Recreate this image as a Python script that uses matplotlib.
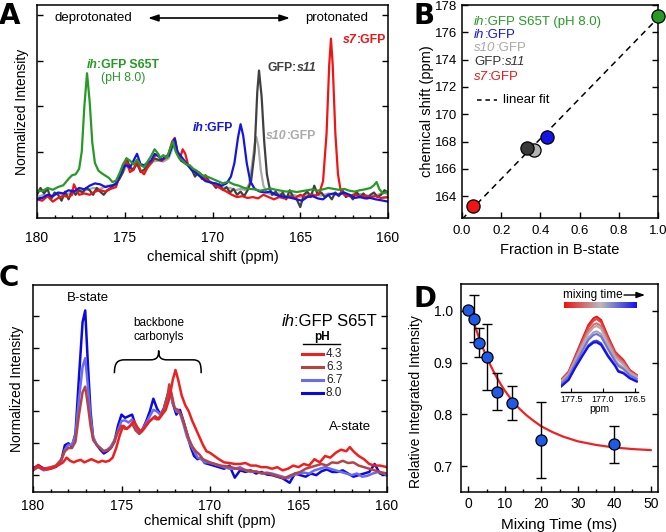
import numpy as np
import matplotlib
matplotlib.use('Agg')
import matplotlib.pyplot as plt
from matplotlib.colors import LinearSegmentedColormap
from matplotlib.patches import PathPatch
from matplotlib.path import Path
from matplotlib.lines import Line2D
from matplotlib.offsetbox import TextArea, HPacker, AnnotationBbox
from matplotlib.ticker import MultipleLocator

plt.rcParams['font.family'] = ['Liberation Sans', 'DejaVu Sans']

# ---------------- panel A: carbonyl spectra of the GFP variants ----------------
a_ppm_green = [180.0, 179.7, 179.4, 179.1, 178.8, 178.5, 178.2, 178.0, 177.8, 177.6, 177.45, 177.3, 177.15,
               177.0, 176.85, 176.7, 176.5, 176.3, 176.1, 175.9, 175.7, 175.5, 175.3, 175.1, 174.9, 174.7,
               174.5, 174.3, 174.1, 173.9, 173.7, 173.5, 173.3, 173.15, 173.0, 172.8, 172.6, 172.4, 172.25,
               172.1, 171.9, 171.7, 171.5, 171.3, 171.1, 170.9, 170.6, 170.3, 170.0, 169.7, 169.4, 169.1,
               168.8, 168.5, 168.2, 167.9, 167.6, 167.3, 167.0, 166.7, 166.4, 166.1, 165.8, 165.5, 165.2,
               164.9, 164.6, 164.3, 164.0, 163.7, 163.4, 163.1, 162.8, 162.5, 162.2, 161.9, 161.6, 161.3,
               161.0, 160.8, 160.65, 160.5, 160.3, 160.0]
a_int_green = [0.15, 0.13, 0.20, 0.16, 0.22, 0.26, 0.40, 0.48, 0.50, 0.62, 1.00, 2.00, 2.72,
               2.10, 1.20, 0.75, 0.58, 0.52, 0.47, 0.42, 0.33, 0.36, 0.52, 0.72, 0.85, 0.80,
               0.72, 0.82, 0.70, 0.66, 0.78, 0.90, 1.05, 0.98, 0.86, 0.92, 0.86, 1.08, 1.22,
               1.00, 0.85, 0.80, 0.72, 0.70, 0.62, 0.58, 0.48, 0.45, 0.40, 0.35, 0.30, 0.34,
               0.28, 0.25, 0.20, 0.18, 0.17, 0.14, 0.16, 0.19, 0.16, 0.14, 0.12, 0.13, 0.11,
               0.13, 0.15, 0.17, 0.14, 0.17, 0.20, 0.18, 0.16, 0.18, 0.14, 0.12, 0.15, 0.17,
               0.20, 0.26, 0.33, 0.18, 0.08, 0.12]

a_ppm_red = [180.0, 179.7, 179.4, 179.1, 178.8, 178.5, 178.2, 178.0, 177.9, 177.6, 177.3, 177.0, 176.7,
             176.4, 176.1, 175.8, 175.5, 175.3, 175.1, 174.9, 174.7, 174.5, 174.3, 174.1, 173.9, 173.7,
             173.5, 173.3, 173.1, 172.9, 172.7, 172.5, 172.3, 172.15, 172.0, 171.85, 171.7, 171.55, 171.4,
             171.2, 171.0, 170.7, 170.4, 170.1, 169.8, 169.5, 169.2, 168.9, 168.6, 168.3, 168.0, 167.7,
             167.4, 167.1, 166.8, 166.5, 166.2, 165.9, 165.6, 165.3, 165.0, 164.7, 164.4, 164.1, 163.9,
             163.7, 163.5, 163.35, 163.25, 163.15, 163.0, 162.85, 162.7, 162.5, 162.2, 161.9, 161.6, 161.3,
             161.0, 160.7, 160.4, 160.0]
a_int_red = [-0.05, -0.08, 0.02, -0.10, -0.02, 0.03, 0.00, 0.05, 0.28, 0.05, 0.08, 0.05, 0.12,
             0.15, 0.12, 0.18, 0.22, 0.45, 0.70, 0.78, 0.55, 0.60, 0.82, 0.58, 0.50, 0.65,
             0.75, 0.90, 0.95, 0.80, 0.85, 0.95, 1.22, 1.30, 1.00, 0.85, 1.05, 0.95, 0.72,
             0.65, 0.58, 0.52, 0.40, 0.32, 0.25, 0.18, 0.12, 0.05, 0.00, 0.02, -0.02, 0.00,
             -0.03, 0.05, 0.00, -0.05, 0.00, -0.03, 0.02, -0.02, 0.05, 0.00, 0.05, 0.03, 0.10,
             0.35, 1.40, 2.90, 3.48, 2.90, 1.40, 0.50, 0.15, 0.05, 0.02, 0.06, 0.00, 0.03,
             0.00, 0.02, -0.02, 0.00]

a_ppm_blue = [180.0, 179.7, 179.4, 179.1, 178.8, 178.5, 178.2, 177.9, 177.6, 177.3, 177.0, 176.7, 176.4,
              176.1, 175.8, 175.5, 175.3, 175.1, 174.9, 174.7, 174.5, 174.3, 174.1, 173.9, 173.7, 173.5,
              173.3, 173.1, 172.9, 172.7, 172.5, 172.3, 172.15, 172.0, 171.8, 171.6, 171.4, 171.2, 171.0,
              170.7, 170.4, 170.1, 169.8, 169.5, 169.2, 168.95, 168.75, 168.55, 168.4, 168.25, 168.05, 167.85,
              167.6, 167.3, 167.0, 166.7, 166.4, 166.1, 165.8, 165.5, 165.2, 164.9, 164.6, 164.3, 164.0,
              163.7, 163.4, 163.1, 162.8, 162.5, 162.2, 161.9, 161.6, 161.3, 161.0, 160.7, 160.4, 160.0]
a_int_blue = [-0.05, -0.02, 0.05, 0.02, 0.10, 0.08, 0.15, 0.12, 0.20, 0.17, 0.25, 0.30, 0.28,
              0.22, 0.25, 0.28, 0.45, 0.65, 0.70, 0.65, 0.80, 0.95, 0.72, 0.70, 0.75, 0.80,
              0.95, 0.90, 0.82, 0.88, 0.90, 1.15, 1.28, 1.00, 0.90, 0.80, 0.70, 0.60, 0.55,
              0.45, 0.35, 0.32, 0.30, 0.25, 0.30, 0.45, 0.75, 1.30, 1.60, 1.35, 0.75, 0.35,
              0.18, 0.12, 0.10, 0.12, 0.05, 0.02, 0.00, -0.02, -0.05, -0.08, 0.00, 0.02, -0.03,
              -0.05, 0.05, 0.08, 0.05, 0.10, 0.05, -0.02, 0.00, -0.03, -0.02, -0.05, -0.07, -0.10]

a_ppm_dark = [180.0, 179.8, 179.6, 179.4, 179.2, 179.0, 178.8, 178.6, 178.4, 178.2, 178.0, 177.8, 177.6,
              177.4, 177.2, 177.0, 176.8, 176.6, 176.4, 176.2, 176.0, 175.8, 175.5, 175.3, 175.1, 174.9,
              174.7, 174.5, 174.3, 174.1, 173.9, 173.7, 173.5, 173.3, 173.1, 172.9, 172.7, 172.5, 172.3,
              172.15, 172.0, 171.8, 171.6, 171.4, 171.2, 171.0, 170.8, 170.6, 170.4, 170.2, 170.0, 169.8,
              169.6, 169.4, 169.2, 169.0, 168.8, 168.6, 168.4, 168.2, 168.0, 167.8, 167.6, 167.45, 167.35,
              167.2, 167.05, 166.9, 166.75, 166.6, 166.4, 166.2, 166.0, 165.8, 165.6, 165.4, 165.2, 165.0,
              164.8, 164.6, 164.4, 164.2, 164.0, 163.8, 163.6, 163.4, 163.2, 163.0, 162.8, 162.6, 162.4,
              162.2, 162.0, 161.8, 161.6, 161.4, 161.2, 161.0, 160.8, 160.6, 160.4, 160.2, 160.0]
a_int_dark = [0.05, 0.20, 0.08, 0.18, -0.05, 0.10, 0.05, -0.08, 0.12, -0.05, 0.15, 0.05, 0.15,
              0.10, 0.20, 0.15, 0.05, 0.20, 0.12, 0.05, 0.15, 0.20, 0.30, 0.40, 0.55, 0.85,
              0.65, 0.60, 0.75, 0.55, 0.60, 0.70, 0.75, 0.85, 0.82, 0.80, 0.88, 0.92, 1.12,
              1.25, 0.95, 0.80, 0.75, 0.70, 0.62, 0.45, 0.55, 0.40, 0.48, 0.35, 0.30, 0.20,
              0.28, 0.15, 0.22, 0.10, 0.18, 0.05, 0.12, 0.02, 0.15, 0.35, 1.00, 2.30, 2.78,
              2.20, 1.20, 0.50, 0.20, 0.05, 0.12, 0.00, 0.10, -0.05, 0.15, 0.00, -0.05, -0.22,
              0.05, 0.12, 0.00, 0.25, 0.05, 0.10, 0.00, 0.05, -0.05, 0.10, 0.02, 0.15, 0.00,
              0.05, -0.05, 0.12, 0.00, 0.08, -0.03, 0.05, 0.10, 0.00, 0.05, 0.15, 0.10]

a_ppm_light = [180.0, 179.6, 179.2, 178.8, 178.4, 178.0, 177.6, 177.2, 176.8, 176.4, 176.0, 175.7, 175.4,
               175.1, 174.9, 174.6, 174.3, 174.0, 173.7, 173.4, 173.1, 172.8, 172.5, 172.3, 172.15, 172.0,
               171.7, 171.4, 171.1, 170.8, 170.5, 170.2, 169.9, 169.6, 169.3, 169.0, 168.7, 168.4, 168.1,
               167.9, 167.75, 167.6, 167.5, 167.38, 167.25, 167.1, 166.9, 166.6, 166.2, 165.8, 165.4, 165.0,
               164.6, 164.2, 163.8, 163.4, 163.0, 162.6, 162.2, 161.8, 161.4, 161.0, 160.6, 160.2, 160.0]
a_int_light = [0.00, 0.05, 0.00, 0.08, 0.05, 0.10, 0.12, 0.15, 0.20, 0.18, 0.25, 0.25, 0.35,
               0.55, 0.68, 0.60, 0.70, 0.55, 0.65, 0.78, 0.80, 0.78, 0.85, 1.05, 1.15, 0.95,
               0.82, 0.70, 0.55, 0.48, 0.40, 0.35, 0.28, 0.25, 0.20, 0.20, 0.15, 0.18, 0.15,
               0.30, 0.70, 1.15, 1.32, 1.10, 0.60, 0.25, 0.10, 0.05, 0.08, 0.02, 0.05, 0.00,
               0.08, 0.05, 0.03, 0.08, 0.05, 0.10, 0.02, 0.08, 0.05, 0.02, 0.05, 0.10, 0.05]

# ---------------- panel B: shift vs B-state fraction ----------------
b_names = ['ih:GFP S65T (pH 8.0)', 'ih:GFP', 's10:GFP', 'GFP:s11', 's7:GFP']
b_fraction = [1.0, 0.435, 0.365, 0.33, 0.055]
b_shift = [177.2, 168.35, 167.35, 167.55, 163.3]

# ---------------- panel C: ih:GFP S65T at several pH ----------------
c_ph = ['4.3', '6.3', '6.7', '8.0']
c_ppm_80 = [180.0, 179.7, 179.4, 179.0, 178.7, 178.4, 178.2, 178.0, 177.8, 177.6, 177.4, 177.2, 177.05,
            176.9, 176.75, 176.6, 176.4, 176.2, 176.0, 175.8, 175.6, 175.4, 175.2, 175.0, 174.8, 174.6,
            174.4, 174.2, 174.0, 173.8, 173.6, 173.4, 173.2, 173.0, 172.8, 172.6, 172.4, 172.25, 172.1,
            171.9, 171.7, 171.5, 171.3, 171.1, 170.9, 170.7, 170.5, 170.3, 170.1, 169.8, 169.5, 169.2,
            168.9, 168.6, 168.3, 168.0, 167.7, 167.4, 167.1, 166.8, 166.5, 166.2, 165.9, 165.5, 165.2,
            164.9, 164.6, 164.3, 164.0, 163.7, 163.4, 163.1, 162.8, 162.5, 162.2, 161.9, 161.6, 161.3,
            161.0, 160.7, 160.4, 160.0]
c_int_80 = [0.21, 0.31, 0.21, 0.21, 0.26, 0.47, 0.94, 1.00, 0.89, 1.31, 3.10, 4.80, 5.17,
            3.50, 2.00, 1.15, 0.95, 0.80, 0.68, 0.75, 0.85, 1.05, 1.55, 1.90, 1.80, 1.85,
            1.90, 1.55, 1.30, 1.45, 1.70, 2.00, 2.40, 2.10, 1.90, 2.10, 2.50, 2.72, 2.25,
            1.90, 2.05, 1.70, 1.30, 0.90, 0.60, 0.50, 0.55, 0.38, 0.35, 0.30, 0.25, 0.20,
            0.30, -0.08, 0.15, 0.10, 0.15, 0.05, 0.10, 0.02, 0.00, -0.05, -0.10, -0.24, 0.05,
            0.00, -0.05, 0.05, 0.00, 0.12, 0.18, 0.10, 0.10, 0.15, 0.05, -0.05, 0.00, 0.05,
            0.10, 0.35, 0.05, 0.00]

c_ppm_67 = [180.0, 179.7, 179.4, 179.0, 178.7, 178.4, 178.2, 178.0, 177.8, 177.6, 177.4, 177.2, 177.05,
            176.9, 176.75, 176.6, 176.4, 176.2, 176.0, 175.8, 175.6, 175.4, 175.2, 175.0, 174.8, 174.6,
            174.4, 174.2, 174.0, 173.8, 173.6, 173.4, 173.2, 173.0, 172.8, 172.6, 172.4, 172.25, 172.1,
            171.9, 171.7, 171.5, 171.3, 171.1, 170.9, 170.7, 170.5, 170.3, 170.1, 169.8, 169.5, 169.2,
            168.9, 168.6, 168.3, 168.0, 167.7, 167.4, 167.1, 166.8, 166.5, 166.2, 165.9, 165.6, 165.3,
            165.0, 164.7, 164.4, 164.1, 163.8, 163.5, 163.2, 162.9, 162.6, 162.3, 162.0, 161.7, 161.4,
            161.1, 160.8, 160.5, 160.2, 160.0]
c_int_67 = [0.15, 0.25, 0.15, 0.20, 0.30, 0.45, 0.80, 0.95, 0.95, 1.25, 2.40, 3.40, 3.67,
            2.80, 1.80, 1.20, 0.95, 0.85, 0.75, 0.80, 0.90, 1.10, 1.40, 1.70, 1.72, 1.65,
            1.75, 1.50, 1.35, 1.45, 1.65, 1.85, 2.05, 2.00, 1.90, 2.10, 2.45, 2.65, 2.25,
            2.00, 1.95, 1.60, 1.20, 0.95, 0.75, 0.55, 0.50, 0.40, 0.40, 0.35, 0.30, 0.25,
            0.20, 0.20, 0.25, 0.15, 0.10, 0.12, 0.05, 0.08, 0.05, 0.00, -0.05, -0.10, 0.00,
            0.05, 0.08, 0.05, 0.15, 0.20, 0.25, 0.20, 0.15, 0.10, 0.05, 0.00, 0.05, -0.05,
            -0.02, 0.05, 0.10, 0.05, 0.00]

c_ppm_63 = [180.0, 179.7, 179.4, 179.0, 178.7, 178.4, 178.2, 178.0, 177.8, 177.6, 177.4, 177.2, 177.05,
            176.9, 176.75, 176.6, 176.4, 176.2, 176.0, 175.8, 175.6, 175.4, 175.2, 175.0, 174.8, 174.6,
            174.4, 174.2, 174.0, 173.8, 173.6, 173.4, 173.2, 173.0, 172.8, 172.6, 172.4, 172.3, 172.15,
            172.0, 171.8, 171.6, 171.4, 171.2, 171.0, 170.8, 170.6, 170.4, 170.2, 170.0, 169.7, 169.4,
            169.1, 168.8, 168.5, 168.2, 167.9, 167.6, 167.3, 167.0, 166.7, 166.4, 166.1, 165.8, 165.5,
            165.2, 164.9, 164.6, 164.3, 164.0, 163.7, 163.4, 163.1, 162.8, 162.5, 162.2, 161.9, 161.6,
            161.3, 161.0, 160.7, 160.4, 160.0]
c_int_63 = [0.20, 0.25, 0.20, 0.25, 0.30, 0.50, 0.75, 0.85, 0.85, 1.05, 1.90, 2.60, 2.78,
            2.20, 1.55, 1.10, 0.95, 0.85, 0.75, 0.78, 0.85, 1.05, 1.35, 1.55, 1.45, 1.50,
            1.62, 1.40, 1.30, 1.40, 1.55, 1.70, 1.80, 1.75, 1.85, 2.10, 2.50, 2.85, 2.50,
            2.10, 2.05, 1.85, 1.50, 1.15, 0.90, 0.75, 0.65, 0.50, 0.45, 0.40, 0.35, 0.30,
            0.28, 0.25, 0.20, 0.18, 0.15, 0.12, 0.10, 0.05, 0.05, 0.00, -0.05, -0.10, -0.02,
            0.05, 0.10, 0.20, 0.25, 0.30, 0.35, 0.30, 0.40, 0.38, 0.45, 0.38, 0.40, 0.30,
            0.25, 0.20, 0.15, 0.10, 0.05]

c_ppm_43 = [180.0, 179.7, 179.5, 179.2, 178.9, 178.6, 178.3, 178.1, 177.9, 177.7, 177.5, 177.3, 177.1,
            176.9, 176.7, 176.5, 176.3, 176.1, 175.9, 175.7, 175.5, 175.3, 175.1, 174.9, 174.7, 174.5,
            174.3, 174.1, 173.9, 173.7, 173.5, 173.3, 173.1, 172.9, 172.7, 172.5, 172.3, 172.1, 171.95,
            171.8, 171.6, 171.4, 171.2, 171.0, 170.8, 170.6, 170.4, 170.2, 170.0, 169.8, 169.5, 169.2,
            168.9, 168.6, 168.3, 168.0, 167.7, 167.4, 167.1, 166.8, 166.5, 166.2, 165.9, 165.6, 165.3,
            165.0, 164.7, 164.4, 164.1, 163.8, 163.5, 163.2, 162.9, 162.6, 162.3, 162.1, 161.9, 161.6,
            161.3, 161.0, 160.7, 160.4, 160.0]
c_int_43 = [0.15, 0.32, 0.20, 0.18, 0.22, 0.30, 0.40, 0.55, 0.45, 0.40, 0.45, 0.48, 0.40,
            0.45, 0.50, 0.45, 0.40, 0.45, 0.42, 0.45, 0.55, 0.85, 1.25, 1.55, 1.45, 1.55,
            1.70, 1.50, 1.35, 1.50, 1.65, 1.75, 1.85, 1.75, 1.90, 2.05, 2.40, 3.00, 3.30,
            3.00, 2.50, 2.20, 2.00, 1.70, 1.45, 1.20, 0.95, 0.75, 0.70, 0.62, 0.50, 0.40,
            0.38, 0.35, 0.35, 0.38, 0.30, 0.30, 0.25, 0.25, 0.20, 0.25, 0.15, 0.20, 0.30,
            0.25, 0.35, 0.30, 0.50, 0.40, 0.60, 0.55, 0.70, 0.80, 0.75, 0.88, 0.75, 0.60,
            0.50, 0.35, 0.30, 0.30, 0.25]

# ---------------- panel D: magnetisation transfer ----------------
d_time = [0, 1.5, 3, 5, 8, 12, 20, 40]
d_rel = [1.001, 0.985, 0.938, 0.911, 0.844, 0.822, 0.750, 0.742]
d_err = [0.0, 0.045, 0.028, 0.063, 0.036, 0.033, 0.073, 0.035]
d_fit_t = [0.5, 1, 2, 3, 4, 5, 6, 7, 8, 9, 10, 12, 14, 16, 18, 20, 23, 26, 30, 35, 40, 45, 50]
d_fit_y = [1.000, 0.988, 0.967, 0.947, 0.928, 0.912, 0.896, 0.882, 0.869, 0.857, 0.846, 0.827,
           0.811, 0.798, 0.787, 0.777, 0.766, 0.757, 0.748, 0.741, 0.736, 0.733, 0.731]

# inset: B-state peak vs mixing time (early -> late)
in_ppm = [177.66, 177.54, 177.44, 177.33, 177.23, 177.15, 177.10, 177.03, 176.92, 176.81, 176.76, 176.68, 176.58, 176.47]
in_spec_0 = [0.30, 0.55, 1.00, 1.50, 1.95, 2.15, 2.20, 2.10, 1.60, 1.15, 1.05, 0.90, 0.60, 0.45]
in_spec_1 = [0.30, 0.53, 0.97, 1.45, 1.88, 2.08, 2.13, 2.03, 1.55, 1.12, 1.02, 0.86, 0.58, 0.44]
in_spec_2 = [0.27, 0.50, 0.92, 1.38, 1.78, 1.96, 2.00, 1.92, 1.47, 1.06, 0.96, 0.82, 0.55, 0.42]
in_spec_3 = [0.25, 0.48, 0.88, 1.32, 1.70, 1.88, 1.92, 1.84, 1.40, 1.00, 0.90, 0.76, 0.52, 0.40]
in_spec_4 = [0.20, 0.42, 0.80, 1.20, 1.57, 1.73, 1.76, 1.68, 1.28, 0.90, 0.78, 0.67, 0.46, 0.35]
in_spec_5 = [0.18, 0.40, 0.76, 1.15, 1.50, 1.65, 1.68, 1.60, 1.22, 0.86, 0.72, 0.63, 0.44, 0.33]
in_spec_6 = [0.12, 0.32, 0.68, 1.03, 1.34, 1.46, 1.48, 1.40, 1.04, 0.75, 0.58, 0.52, 0.37, 0.27]
in_spec_7 = [0.10, 0.30, 0.65, 1.00, 1.30, 1.42, 1.43, 1.35, 1.00, 0.72, 0.55, 0.50, 0.35, 0.25]

W, H = 666, 532


def fx(x):
    return x / W


def fy(y):
    return 1 - y / H


def box(l, t, r, b):
    return [l / W, 1 - b / H, (r - l) / W, (b - t) / H]


def style(ax, size=10):
    ax.tick_params(direction='in', which='both', right=True, top=False, labelsize=size, width=1.0)
    ax.tick_params(which='major', length=4.5)
    ax.tick_params(which='minor', length=2.5)
    for s in ax.spines.values():
        s.set_linewidth(1.1)


def rich(x, y, parts, color, size, ha='left', weight='normal'):
    # text made of pieces with different font styles, placed at pixel (x, y)
    boxes = [TextArea(t, textprops=dict(color=color, fontsize=size, fontweight=weight, fontstyle=st))
             for t, st in parts]
    pack = HPacker(children=boxes, align='baseline', pad=0, sep=0)
    ab = AnnotationBbox(pack, (fx(x), fy(y)), xycoords='figure fraction', frameon=False,
                        box_alignment=({'left': 0, 'center': 0.5, 'right': 1}[ha], 0.5), pad=0)
    ab.set_zorder(10)
    fig.add_artist(ab)


fig = plt.figure(figsize=(6.66, 5.32), dpi=100)

green, blue, red = '#259a25', '#1414e6', '#f01414'
dark, light = '#404040', '#aaaaaa'

# ---------- A ----------
ax = fig.add_axes(box(37, 5, 388, 218))
ax.plot(a_ppm_light, a_int_light, color=light, lw=1.6)
ax.plot(a_ppm_dark, a_int_dark, color=dark, lw=1.6)
ax.plot(a_ppm_red, a_int_red, color=red, lw=1.6)
ax.plot(a_ppm_blue, a_int_blue, color=blue, lw=1.6)
ax.plot(a_ppm_green, a_int_green, color=green, lw=1.6)
ax.set_xlim(180, 160)
ax.set_ylim(-0.46, 4.22)
ax.set_yticks([0, 1, 2, 3, 4])
ax.set_yticklabels([])
ax.xaxis.set_major_locator(MultipleLocator(5))
ax.xaxis.set_minor_locator(MultipleLocator(1))
style(ax)
ax.tick_params(axis='x', pad=9)
ax.set_xlabel('chemical shift (ppm)', fontsize=10.5, labelpad=4)
ax.set_ylabel('Normalized Intensity', fontsize=10, labelpad=2)

fig.text(fx(93), fy(18), 'deprotonated', fontsize=9.5, ha='center', va='center')
fig.text(fx(337), fy(18), 'protonated', fontsize=9.5, ha='center', va='center')
ax.annotate('', xy=(fx(290), fy(18)), xytext=(fx(148), fy(18)), xycoords='figure fraction',
            arrowprops=dict(arrowstyle='<|-|>,head_length=0.6,head_width=0.2', color='k', lw=1.2,
                            shrinkA=0, shrinkB=0))
rich(123, 65, [('ih', 'italic'), (':GFP S65T', 'normal')], green, 8.8, ha='center', weight='bold')
fig.text(fx(123), fy(78), '(pH 8.0)', fontsize=8.8, color=green, ha='center', va='center')
rich(268, 68, [('GFP:', 'normal'), ('s11', 'italic')], dark, 8.8, weight='bold')
rich(343, 40, [('s7', 'italic'), (':GFP', 'normal')], red, 8.8, weight='bold')
rich(233, 128, [('ih', 'italic'), (':GFP', 'normal')], blue, 8.8, ha='right', weight='bold')
rich(266, 136, [('s10', 'italic'), (':GFP', 'normal')], light, 8.8, weight='bold')

# ---------- B ----------
ax = fig.add_axes(box(462, 5, 658, 218))
slope, icpt = np.polyfit(b_fraction, b_shift, 1)
fit_x = np.array([0.0, 1.0])
ax.plot(fit_x, icpt + slope * fit_x, '--', color='k', lw=1.1, dashes=(4, 3))
b_cols = [green, blue, '#b4b4b4', '#3a3a3a', red]
for f, s, c in zip(b_fraction, b_shift, b_cols):
    ax.plot(f, s, 'o', ms=9.5, mfc=c, mec='k', mew=0.9, clip_on=False, zorder=5)
ax.set_xlim(0, 1.0)
ax.set_ylim(162.4, 178)
ax.set_yticks(np.arange(164, 179, 2))
ax.xaxis.set_major_locator(MultipleLocator(0.2))
ax.xaxis.set_major_formatter(matplotlib.ticker.FormatStrFormatter('%.1f'))
style(ax, 9.5)
ax.tick_params(axis='x', pad=5)
ax.set_xlabel('Fraction in B-state', fontsize=10.5, labelpad=4)
ax.set_ylabel('chemical shift (ppm)', fontsize=10.5, labelpad=1)
rich(474, 22, [('ih', 'italic'), (':GFP S65T (pH 8.0)', 'normal')], green, 9.5)
rich(474, 35, [('ih', 'italic'), (':GFP', 'normal')], blue, 9.5)
rich(474, 48, [('s10', 'italic'), (':GFP', 'normal')], '#a8a8a8', 9.5)
rich(474, 62, [('GFP:', 'normal'), ('s11', 'italic')], '#333333', 9.5)
rich(474, 77, [('s7', 'italic'), (':GFP', 'normal')], red, 9.5)
fig.add_artist(Line2D([fx(477), fx(497)], [fy(100), fy(100)], color='k', lw=1.1, ls='--', dashes=(3, 2.5)))
fig.text(fx(503), fy(100), 'linear fit', fontsize=9.5, va='center')

# ---------- C ----------
ax = fig.add_axes(box(33, 285, 387, 492))
c_cols = ['#f01e1e', '#b44444', '#6b6bf0', '#0a0ae0']
ax.plot(c_ppm_80, c_int_80, color=c_cols[3], lw=1.8)
ax.plot(c_ppm_67, c_int_67, color=c_cols[2], lw=1.8)
ax.plot(c_ppm_63, c_int_63, color=c_cols[1], lw=1.8)
ax.plot(c_ppm_43, c_int_43, color=c_cols[0], lw=1.8)
ax.set_xlim(180, 160)
ax.set_ylim(-0.53, 5.97)
ax.set_yticks([0, 1, 2, 3, 4, 5])
ax.set_yticklabels([])
ax.xaxis.set_major_locator(MultipleLocator(5))
ax.xaxis.set_minor_locator(MultipleLocator(1))
style(ax)
ax.tick_params(axis='x', pad=5)
ax.set_xlabel('chemical shift (ppm)', fontsize=10.5, labelpad=1)
ax.set_ylabel('Normalized Intensity', fontsize=10, labelpad=3)

# curly brace over the backbone carbonyl region
yb, ym, yt = 3.2, 3.62, 3.91
verts = [(175.4, yb), (175.4, ym - 0.07), (175.2, ym), (174.8, ym), (173.4, ym),
         (173.0, ym), (172.9, ym + 0.08), (172.9, yt), (172.9, ym + 0.08), (172.8, ym), (172.4, ym),
         (171.0, ym), (170.6, ym), (170.5, ym - 0.07), (170.5, yb)]
codes = [Path.MOVETO, Path.CURVE4, Path.CURVE4, Path.CURVE4, Path.LINETO,
         Path.CURVE4, Path.CURVE4, Path.CURVE4, Path.CURVE4, Path.CURVE4, Path.CURVE4,
         Path.LINETO, Path.CURVE4, Path.CURVE4, Path.CURVE4]
ax.add_patch(PathPatch(Path(verts, codes), fill=False, lw=1.1, color='k'))

fig.text(fx(88), fy(298), 'B-state', fontsize=9.5, ha='center', va='center')
fig.text(fx(350), fy(427), 'A-state', fontsize=9.5, ha='center', va='center')
fig.text(fx(159), fy(330), 'backbone\ncarbonyls', fontsize=8.5, ha='center', va='center', linespacing=1.2)
rich(377, 322, [('ih', 'italic'), (':GFP S65T', 'normal')], 'k', 12, ha='right')
fig.text(fx(322), fy(337), 'pH', fontsize=8.5, fontweight='bold', ha='center', va='center')
fig.add_artist(Line2D([fx(303), fx(340)], [fy(344), fy(344)], color='k', lw=1.0))
for i, (lab, c) in enumerate(zip(c_ph, c_cols)):
    yy = 354 + i * 13
    fig.add_artist(Line2D([fx(302), fx(323)], [fy(yy), fy(yy)], color=c, lw=2.2))
    fig.text(fx(326), fy(yy), lab, fontsize=8.5, va='center', color='#222222')

# ---------- D ----------
ax = fig.add_axes(box(461, 284, 658, 492))
ax.plot(d_fit_t, d_fit_y, color='#ee2222', lw=1.6, zorder=2)
ax.errorbar(d_time, d_rel, yerr=d_err, fmt='none', ecolor='k', elinewidth=1.0, capsize=3.5,
            capthick=1.0, zorder=3)
ax.plot(d_time, d_rel, 'o', ms=8, mfc='#1e5ae6', mec='k', mew=0.9, zorder=4)
ax.set_xlim(-2, 52)
ax.set_ylim(0.65, 1.052)
ax.set_yticks([0.7, 0.8, 0.9, 1.0])
ax.xaxis.set_major_locator(MultipleLocator(10))
ax.xaxis.set_minor_locator(MultipleLocator(5))
style(ax)
ax.tick_params(axis='y', pad=6)
ax.set_xlabel('Mixing Time (ms)', fontsize=11, labelpad=5)
ax.set_ylabel('Relative Integrated Intensity', fontsize=10)
ax.yaxis.set_label_coords(-0.193, 0.433)

cmap = LinearSegmentedColormap.from_list('mix', ['#ee1111', '#bbbbbb', '#1111ee'])
ins = fig.add_axes(box(561, 310, 638, 392))
ins.patch.set_alpha(0)
in_specs = [in_spec_0, in_spec_1, in_spec_2, in_spec_3, in_spec_4, in_spec_5, in_spec_6, in_spec_7]
for i, sp in enumerate(in_specs):
    ins.plot(in_ppm, sp, color=cmap(i / (len(in_specs) - 1)), lw=1.5)
ins.set_xlim(177.66, 176.45)
ins.set_ylim(-0.06, 2.4)
ins.set_xticks([177.5, 177.0, 176.5])
ins.set_yticks([])
for side in ['top', 'left', 'right']:
    ins.spines[side].set_visible(False)
ins.spines['bottom'].set_linewidth(1.0)
ins.tick_params(axis='x', direction='in', length=3, labelsize=6.5, pad=2)
ins.set_xlabel('ppm', fontsize=7.5, labelpad=0)

cax = fig.add_axes(box(564, 302, 637, 308))
cax.imshow(np.linspace(0, 1, 256)[None, :], aspect='auto', cmap=cmap)
cax.axis('off')
fig.text(fx(563), fy(295), 'mixing time', fontsize=8.5, va='center')
ax.annotate('', xy=(fx(645), fy(295)), xytext=(fx(624), fy(295)), xycoords='figure fraction',
            arrowprops=dict(arrowstyle='-|>,head_length=0.5,head_width=0.18', color='k', lw=1.0,
                            shrinkA=0, shrinkB=0))

# panel letters
for lab, x, y in [('A', -1, 2), ('B', 413, 2), ('C', -1, 264), ('D', 413, 285)]:
    fig.text(fx(x), fy(y), lab, fontsize=20, fontweight='bold', family='DejaVu Sans', va='top')

fig.savefig('out.png', dpi=100)
